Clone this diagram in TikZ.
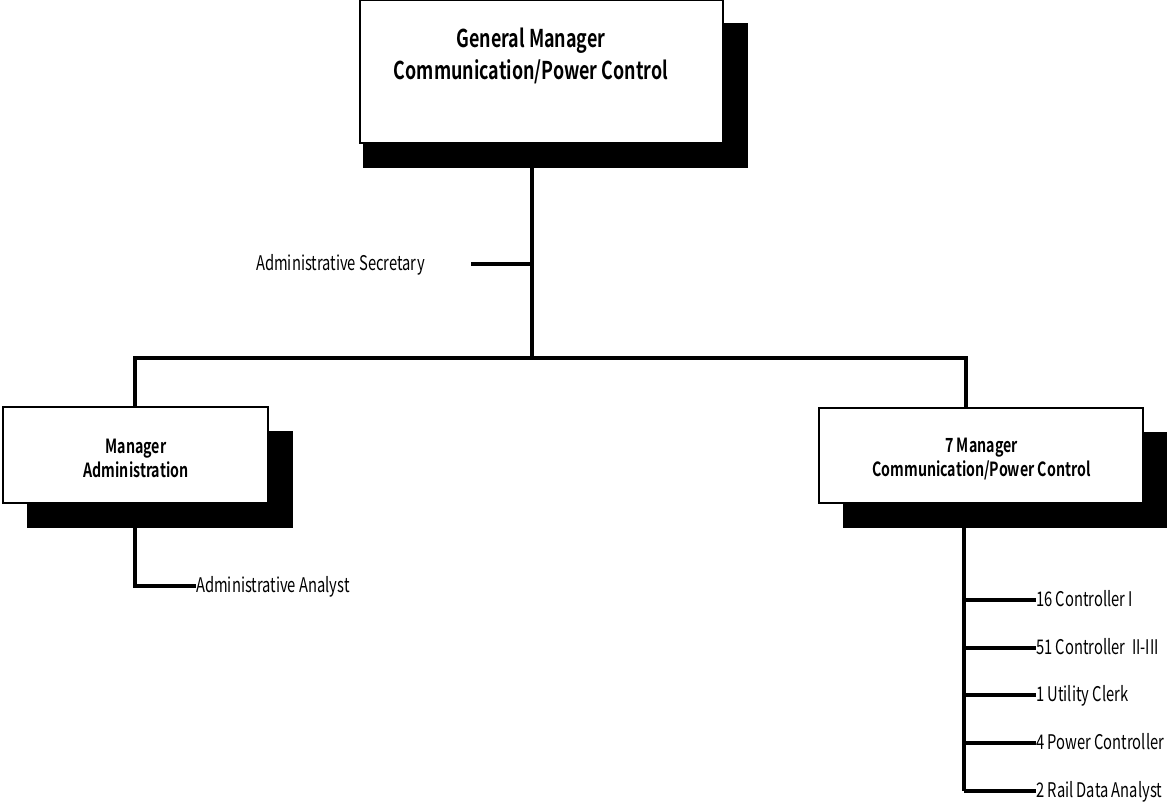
\documentclass[tikz,border=0pt]{standalone}
\usepackage{fontspec}
\setmainfont{Noto Sans CJK KR}[BoldFont={Noto Sans CJK KR Bold}, FakeStretch=0.73]
\begin{document}
\begin{tikzpicture}[x=1pt, y=-1pt,
  box/.style={draw=black, line width=2pt, fill=white, inner sep=0pt},
  shadow/.style={fill=black, draw=none},
  link/.style={line width=3.2pt},
  bigtitle/.style={font=\bfseries\fontsize{24.5}{32}\selectfont, align=center, inner sep=0pt},
  title/.style={font=\bfseries\fontsize{19.5}{24}\selectfont, align=center, inner sep=0pt},
  role/.style={font=\fontsize{20.2}{22}\selectfont, inner sep=0pt, anchor=base west}]
\useasboundingbox (0,0) rectangle (1167,801);

% connectors (drawn first, boxes sit on top)
\coordinate (gmfoot) at (532,143);
\coordinate (sectap) at (532,264);
\coordinate (bus) at (532,358);
\coordinate (busl) at (135,358);
\coordinate (busr) at (966,358);
\coordinate (secend) at (471,264);
\draw[link] (gmfoot) -- (bus);
\draw[link] (secend) -- (sectap);
\draw[link, line cap=rect] (busl) -- (busr);

% general manager
\fill[shadow] (363,23) rectangle (748,168);
\node[box, minimum width=363pt, minimum height=143pt] (gm) at (541.5,71.5) {};
\node[bigtitle] (gmtext) at (531,56) {General Manager\\Communication/Power Control};

% manager administration
\draw[link] (busl) -- (135,407);
\fill[shadow] (27,431) rectangle (293,528);
\node[box, minimum width=265pt, minimum height=96pt] (adm) at (135.5,455) {};
\node[title] (admtext) at (136,458) {Manager\\Administration};

% manager communication/power control
\draw[link] (busr) -- (966,408);
\fill[shadow] (843,432) rectangle (1167,528);
\node[box, minimum width=324pt, minimum height=95pt] (cpc) at (981,455.5) {};
\node[title] (cpctext) at (981.5,459) {7 Manager\\Communication/Power Control};

% staff under administration
\coordinate (admfoot) at (135,528);
\coordinate (admknee) at (135,586);
\node[role] (anl) at (196,592.5) {Administrative Analyst};
\draw[link] (admfoot) -- (admknee) -- (anl.base west |- admknee);

% secretary
\node[role] (sec) at (256,270.5) {Administrative Secretary};

% staff under communication/power control
\coordinate (cpcfoot) at (964,528);
\coordinate (cpcknee) at (964,791);
\draw[link] (cpcfoot) -- (cpcknee);
\foreach \name/\yy/\txt in {c1/600/16 Controller I, c2/648/51 Controller\ \ II-III, c3/695/1 Utility Clerk, c4/743/4 Power Controller, c5/791/2 Rail Data Analyst}{
  \node[role] (\name) at (1036,\yy+6.5) {\txt};
  \draw[link] (964,\yy) -- (\name.base west |- 964,\yy);
}
\end{tikzpicture}
\end{document}
